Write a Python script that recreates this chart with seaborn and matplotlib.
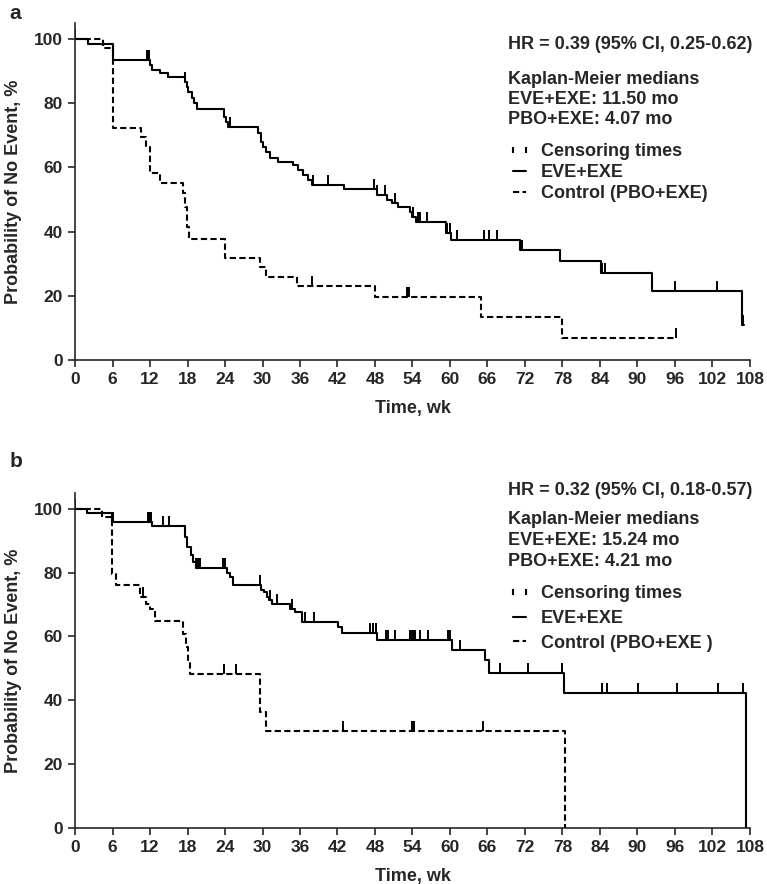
import numpy as np
import pandas as pd
import matplotlib
matplotlib.use('Agg')
import matplotlib.pyplot as plt
from matplotlib.lines import Line2D
import seaborn as sns

# ---- panel a : step points (week, % with no event) ----
a_eve_t = [0, 2.1, 6.0, 12.0, 12.3, 13.6, 14.9, 17.6, 17.9, 18.1, 18.7, 19.0, 19.5,
           23.8, 24.1, 24.4, 29.3, 29.7, 30.1, 30.5, 31.2, 32.4, 34.9, 35.7, 36.5,
           37.3, 38.0, 43.0, 48.3, 49.9, 50.8, 51.7, 53.6, 54.0, 54.5, 59.4, 60.2,
           71.2, 77.6, 84.2, 92.3, 106.7, 107.0]
a_eve_s = [100, 98.6, 93.5, 91.9, 90.5, 89.4, 88.3, 86.7, 85.2, 83.6, 81.5, 80.0, 78.1,
           75.8, 74.0, 72.5, 70.6, 68.0, 66.5, 64.9, 62.8, 61.8, 60.7, 59.2, 57.6,
           56.1, 54.5, 53.2, 51.4, 49.8, 48.8, 47.6, 46.2, 44.6, 43.1, 39.5, 37.4,
           34.3, 30.9, 27.0, 21.6, 10.9, 10.9]
a_eve_cens = [0, 11.5, 11.7, 11.9, 17.6, 24.8, 38.1, 40.5, 47.8, 48.3, 49.6, 51.2,
              54.1, 54.9, 55.2, 56.3, 59.5, 60.0, 61.1, 65.5, 66.3, 67.5, 71.5,
              84.3, 84.8, 96.0, 102.7, 106.9]

a_pbo_t = [0, 4.4, 6.0, 10.6, 11.4, 12.0, 13.6, 17.3, 17.6, 17.9, 18.3, 24.0, 29.6,
           30.6, 35.5, 48.0, 65.0, 78.0, 96.1]
a_pbo_s = [100, 97.1, 72.2, 69.6, 66.5, 58.2, 55.0, 51.9, 47.8, 41.5, 37.7, 31.7, 29.1,
           26.0, 23.2, 19.7, 13.5, 6.7, 6.7]
a_pbo_cens = [37.9, 53.1, 53.4, 96.1]

# ---- panel b ----
b_eve_t = [0, 1.9, 5.9, 12.3, 17.6, 17.9, 18.5, 18.9, 19.3, 24.3, 24.8, 25.2, 29.7,
           30.2, 30.7, 31.0, 31.5, 34.4, 35.2, 36.3, 42.1, 42.7, 48.3, 60.3, 65.6,
           66.3, 78.2, 107.3]
b_eve_s = [100, 98.8, 96.0, 94.8, 91.1, 88.0, 85.4, 83.3, 81.4, 79.9, 78.6, 76.0, 74.5,
           73.9, 72.5, 71.3, 70.3, 68.7, 67.6, 64.5, 62.9, 61.1, 59.0, 55.9, 52.7,
           48.5, 42.3, 0]
b_eve_cens = [0, 6.0, 11.6, 11.8, 12.0, 12.2, 14.0, 15.0, 19.4, 19.7, 20.0, 23.7, 24.0,
              29.6, 31.2, 32.3, 34.8, 36.8, 38.3, 47.2, 47.7, 48.2, 49.7, 50.1, 51.2,
              53.6, 53.9, 54.2, 54.4, 55.2, 56.5, 59.7, 60.0, 61.6, 65.6, 68.0, 72.5,
              77.9, 84.3, 85.1, 90.1, 96.3, 102.9, 106.9]

b_pbo_t = [0, 4.3, 5.9, 6.5, 10.4, 11.4, 12.0, 12.8, 17.3, 17.7, 18.0, 18.4, 29.6,
           30.6, 78.4]
b_pbo_s = [100, 97.4, 79.6, 76.0, 72.3, 70.3, 68.7, 64.7, 60.9, 56.7, 52.5, 48.3, 36.3,
           30.3, 0]
b_pbo_cens = [10.9, 23.8, 25.8, 42.9, 54.0, 54.3, 65.3]

x_ticks = list(range(0, 109, 6))
y_ticks = [0, 20, 40, 60, 80, 100]

hr_text = ['HR = 0.39 (95% CI, 0.25-0.62)', 'HR = 0.32 (95% CI, 0.18-0.57)']
km_text = [['Kaplan-Meier medians', 'EVE+EXE: 11.50 mo', 'PBO+EXE: 4.07 mo'],
           ['Kaplan-Meier medians', 'EVE+EXE: 15.24 mo', 'PBO+EXE: 4.21 mo']]
leg_labels = [['Censoring times', 'EVE+EXE', 'Control (PBO+EXE)'],
              ['Censoring times', 'EVE+EXE', 'Control (PBO+EXE )']]

sns.set_style('ticks')
plt.rcParams['font.family'] = ['Liberation Sans', 'DejaVu Sans']
plt.rcParams['font.weight'] = 'bold'
plt.rcParams['axes.labelweight'] = 'bold'

fig = plt.figure(figsize=(7.67, 8.84), dpi=100)
ax_a = fig.add_axes([0.0978, 0.5928, 0.880, 0.3812])
ax_b = fig.add_axes([0.0978, 0.0637, 0.880, 0.3786])

dash = {'EVE+EXE': '', 'PBO+EXE': (3, 1.6)}


def step_at(t, s, c):
    i = np.searchsorted(t, c, side='right') - 1
    return np.array(s)[i]


panels = [
    (ax_a, a_eve_t, a_eve_s, a_eve_cens, a_pbo_t, a_pbo_s, a_pbo_cens),
    (ax_b, b_eve_t, b_eve_s, b_eve_cens, b_pbo_t, b_pbo_s, b_pbo_cens),
]

for k, (ax, et, es, ec, pt, ps, pc) in enumerate(panels):
    df = pd.concat([
        pd.DataFrame({'week': et, 'surv': es, 'arm': 'EVE+EXE'}),
        pd.DataFrame({'week': pt, 'surv': ps, 'arm': 'PBO+EXE'}),
    ], ignore_index=True)
    sns.lineplot(data=df, x='week', y='surv', style='arm', dashes=dash,
                 color='black', drawstyle='steps-post', estimator=None,
                 lw=1.5, legend=False, ax=ax)
    # censoring ticks
    ax.plot(ec, step_at(et, es, ec), ls='none', marker=2, ms=7, mew=1.4, color='black')
    ax.plot(pc, step_at(pt, ps, pc), ls='none', marker=2, ms=7, mew=1.4, color='black')

    ax.set_xlim(0, 108)
    ax.set_ylim(0, 105)
    ax.set_xticks(x_ticks)
    ax.set_yticks(y_ticks)
    ax.tick_params(direction='out', length=5, width=1.2, labelsize=12.5, pad=4)
    for sp in ['left', 'bottom']:
        ax.spines[sp].set_linewidth(1.2)
    sns.despine(ax=ax)
    ax.set_xlabel('Time, wk', fontsize=13, labelpad=9)
    ax.set_ylabel('Probability of No Event, %', fontsize=13, labelpad=8)

    # annotation block
    if k == 0:
        ys = [0.935, 0.831, 0.772, 0.715]
        leg_top, spacing = 0.643, 0.22
    else:
        ys = [1.007, 0.921, 0.858, 0.796]
        leg_top, spacing = 0.724, 0.42
    ax.text(0.641, ys[0], hr_text[k], transform=ax.transAxes, fontsize=13,
            va='center', ha='left')
    for line, yy in zip(km_text[k], ys[1:]):
        ax.text(0.641, yy, line, transform=ax.transAxes, fontsize=13,
                va='center', ha='left')

    handles = [Line2D([], [], ls='none', marker='|', ms=5, mew=1.5, color='black'),
               Line2D([], [], ls='-', lw=1.5, color='black'),
               Line2D([], [], ls=(0, (3, 1.6)), lw=1.5, color='black')]
    ax.legend(handles, leg_labels[k], loc='upper left', bbox_to_anchor=(0.641, leg_top),
              frameon=False, fontsize=13, numpoints=2, handlelength=1.3,
              handletextpad=0.55, labelspacing=spacing, borderpad=0, borderaxespad=0)

fig.text(0.012, 0.985, 'a', fontsize=15, weight='bold', va='center')
fig.text(0.012, 0.478, 'b', fontsize=15, weight='bold', va='center')

fig.savefig('out.png', dpi=100)
